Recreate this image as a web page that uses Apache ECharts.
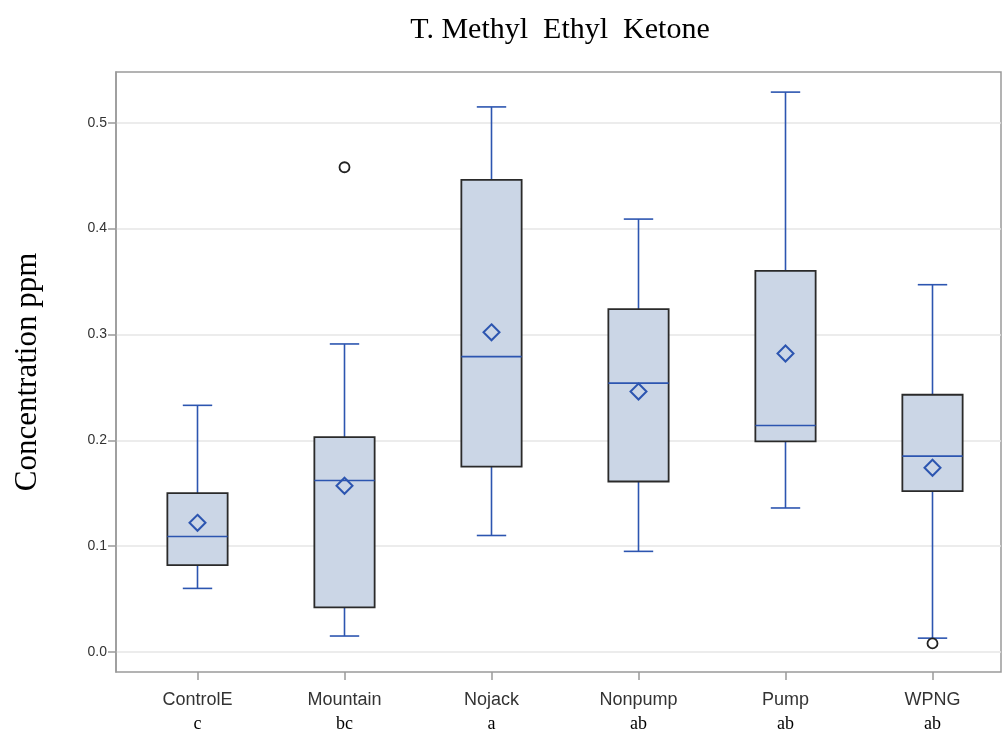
<!DOCTYPE html>
<html>
<head>
<meta charset="utf-8">
<script src="https://cdn.jsdelivr.net/npm/echarts@6/dist/echarts.min.js"></script>
<style>
  html, body { margin: 0; padding: 0; background: #fff; }
  #chart { width: 1002px; height: 734px; }
</style>
</head>
<body>
<div id="chart"></div>
<script>
// groups and their letter groupings
var categories = ['ControlE', 'Mountain', 'Nojack', 'Nonpump', 'Pump', 'WPNG'];
var letters = ['c', 'bc', 'a', 'ab', 'ab', 'ab'];

// box stats: [low whisker, Q1, median, Q3, high whisker]
var boxStats = [
  [0.060, 0.082, 0.109, 0.150, 0.233],
  [0.015, 0.042, 0.162, 0.203, 0.291],
  [0.110, 0.175, 0.279, 0.446, 0.515],
  [0.095, 0.161, 0.254, 0.324, 0.409],
  [0.136, 0.199, 0.214, 0.360, 0.529],
  [0.013, 0.152, 0.185, 0.243, 0.347]
];
var means = [0.122, 0.157, 0.302, 0.246, 0.282, 0.174];
// outliers: [category index, value]
var outliers = [[1, 0.458], [5, 0.008]];

var yTicks = [0, 0.1, 0.2, 0.3, 0.4, 0.5];

var chart = echarts.init(document.getElementById('chart'));

var BLUE = '#2c55b0';

function renderBox(params, api) {
  var idx = api.value(0);
  var lo = api.coord([idx, api.value(1)]);
  var q1 = api.coord([idx, api.value(2)]);
  var med = api.coord([idx, api.value(3)]);
  var q3 = api.coord([idx, api.value(4)]);
  var hi = api.coord([idx, api.value(5)]);
  var band = api.size([1, 0])[0];
  var bw = band * 0.41, cw = band * 0.2;
  var x = med[0];
  var lineStyle = { stroke: BLUE, lineWidth: 1.6, fill: null };
  return {
    type: 'group',
    children: [
      { type: 'line', shape: { x1: x, y1: q3[1], x2: x, y2: hi[1] }, style: lineStyle },
      { type: 'line', shape: { x1: x, y1: q1[1], x2: x, y2: lo[1] }, style: lineStyle },
      { type: 'line', shape: { x1: x - cw / 2, y1: hi[1], x2: x + cw / 2, y2: hi[1] }, style: lineStyle },
      { type: 'line', shape: { x1: x - cw / 2, y1: lo[1], x2: x + cw / 2, y2: lo[1] }, style: lineStyle },
      { type: 'rect', shape: { x: x - bw / 2, y: q3[1], width: bw, height: q1[1] - q3[1] },
        style: { fill: '#cbd6e6', stroke: '#2a2a2a', lineWidth: 1.8 } },
      { type: 'line', shape: { x1: x - bw / 2, y1: med[1], x2: x + bw / 2, y2: med[1] }, style: lineStyle }
    ]
  };
}

var yMin = -0.019, yMax = 0.548;

var option = {
  animation: false,
  title: {
    text: 'T. Methyl  Ethyl  Ketone',
    left: 555,
    top: 10,
    textAlign: 'center',
    textStyle: { fontFamily: 'Liberation Serif', fontSize: 30, fontWeight: 'normal', color: '#000' }
  },
  grid: [
    { left: 116, right: 1, top: 72, bottom: 62, show: true, borderColor: '#9a9a9a', borderWidth: 1.5,
      backgroundColor: 'transparent', outerBoundsMode: 'none', containLabel: false },
    { left: 124, width: 882, top: 72, bottom: 62, outerBoundsMode: 'none', containLabel: false }
  ],
  xAxis: [
    { gridIndex: 0, type: 'value', min: 0, max: 1, show: false },
    {
      gridIndex: 1, type: 'category', data: categories, position: 'bottom',
      axisLine: { show: false, onZero: false },
      axisTick: { show: true, alignWithLabel: true, length: 8, lineStyle: { color: '#9a9a9a', width: 1.5 } },
      axisLabel: {
        margin: 16,
        formatter: function (v, i) { return '{a|' + v + '}\n{b|' + letters[i] + '}'; },
        rich: {
          a: { fontFamily: 'Liberation Sans', fontSize: 18, color: '#333', lineHeight: 25 },
          b: { fontFamily: 'Liberation Serif', fontSize: 18, color: '#000', lineHeight: 23 }
        }
      },
      splitLine: { show: false }
    }
  ],
  yAxis: [
    {
      gridIndex: 0, type: 'value', min: yMin, max: yMax,
      name: 'Concentration ppm', nameLocation: 'middle', nameGap: 73,
      nameTextStyle: { fontFamily: 'Liberation Serif', fontSize: 31, color: '#000' },
      axisLine: { show: true, lineStyle: { color: '#9a9a9a', width: 1.5 } },
      axisTick: { show: true, length: 8, customValues: yTicks, lineStyle: { color: '#9a9a9a', width: 1.5 } },
      axisLabel: {
        customValues: yTicks, margin: 9,
        fontFamily: 'Liberation Sans', fontSize: 14, color: '#333',
        formatter: function (v) { return v.toFixed(1); }
      },
      splitLine: { show: true, lineStyle: { color: '#e6e6e6', width: 1.5 } }
    },
    { gridIndex: 1, type: 'value', min: yMin, max: yMax, show: false }
  ],
  series: [
    {
      type: 'custom', xAxisIndex: 1, yAxisIndex: 1,
      renderItem: renderBox,
      encode: { x: 0, y: [1, 2, 3, 4, 5] },
      data: boxStats.map(function (s, i) { return [i].concat(s); }),
      z: 2
    },
    {
      type: 'scatter', xAxisIndex: 1, yAxisIndex: 1,
      symbol: 'diamond', symbolSize: [16, 16],
      itemStyle: { color: 'transparent', borderColor: BLUE, borderWidth: 2, opacity: 1 },
      data: means.map(function (m, i) { return [i, m]; }),
      z: 3
    },
    {
      type: 'scatter', xAxisIndex: 1, yAxisIndex: 1,
      symbol: 'circle', symbolSize: 10,
      itemStyle: { color: '#fff', borderColor: '#222', borderWidth: 1.8, opacity: 1 },
      data: outliers,
      z: 4
    }
  ]
};

chart.setOption(option);
</script>
</body>
</html>
